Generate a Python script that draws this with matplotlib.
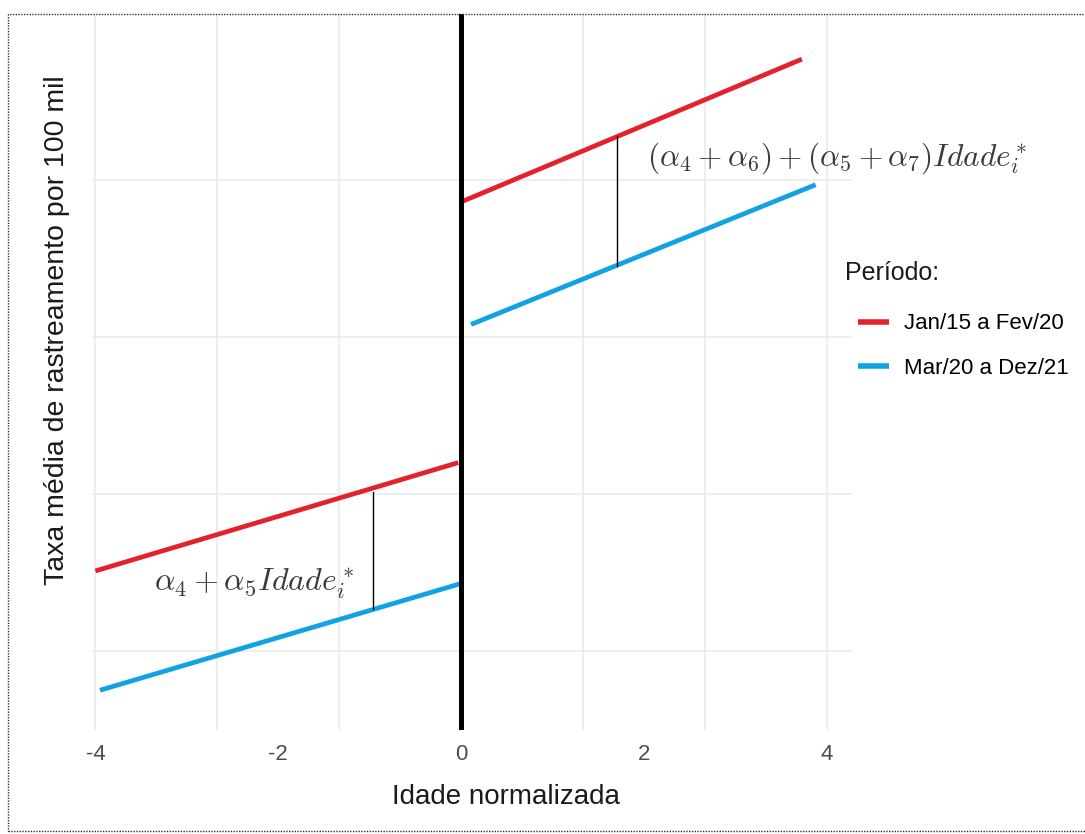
#!/usr/bin/env python3

# Regression discontinuity sketch: tracking rate by normalized age, two periods.

import matplotlib
matplotlib.use('Agg')
import matplotlib.pyplot as plt
from matplotlib.patches import Rectangle

periods = ['Jan/15 a Fev/20', 'Mar/20 a Dez/21']
period_colors = ['#e4222b', '#10a2e2']

# segments left (age < 0) and right (age >= 0) of the cutoff
red_left_x  = [-4.0, -0.03]
red_left_y  = [1.51, 2.20]
blue_left_x = [-3.95, 0.0]
blue_left_y = [0.75, 1.43]
red_right_x  = [0.0, 3.73]
red_right_y  = [3.86, 4.77]
blue_right_x = [0.11, 3.88]
blue_right_y = [3.08, 3.97]

# vertical gaps between the periods
gap_left_x = [-0.96, -0.96]
gap_left_y = [2.01, 1.27]
gap_right_x = [1.71, 1.71]
gap_right_y = [4.28, 3.45]

x_ticks = [-4, -2, 0, 2, 4]
grid_x = [-4, -8/3, -4/3, 0, 4/3, 8/3, 4]
grid_y = [1, 2, 3, 4]

W, H = 1085, 834

def main():
  plt.rcParams['font.family'] = ['Liberation Sans', 'DejaVu Sans']
  plt.rcParams['mathtext.fontset'] = 'cm'

  fig = plt.figure(figsize=(W / 100, H / 100), dpi=100)
  ax = fig.add_axes([92 / W, 1 - 730 / H, 760 / W, 716 / H])
  ax.set_xlim((92 - 461) / 91.4, (852 - 461) / 91.4)
  ax.set_ylim((651 - 730) / 157 + 1, (651 - 14) / 157 + 1)

  # background grid (ggplot minimal look)
  for gx in grid_x:
    ax.axvline(gx, color='#ebebeb', lw=1.2, zorder=0)
  for gy in grid_y:
    ax.axhline(gy, color='#ebebeb', lw=1.2, zorder=0)

  lw = 3.4
  ax.plot(red_left_x, red_left_y, color=period_colors[0], lw=lw, solid_capstyle='butt')
  ax.plot(blue_left_x, blue_left_y, color=period_colors[1], lw=lw, solid_capstyle='butt')
  ax.plot(red_right_x, red_right_y, color=period_colors[0], lw=lw, solid_capstyle='butt', label=periods[0])
  ax.plot(blue_right_x, blue_right_y, color=period_colors[1], lw=lw, solid_capstyle='butt', label=periods[1])

  ax.plot(gap_left_x, gap_left_y, color='black', lw=1.0)
  ax.plot(gap_right_x, gap_right_y, color='black', lw=1.0)

  ax.axvline(0, color='black', lw=3.6, zorder=5)

  ax.text(2.04, 4.14, r'$(\alpha_4+\alpha_6)+(\alpha_5+\alpha_7)Idade_i^*$',
          fontsize=22.5, color='#3a3a3a', ha='left', va='center')
  ax.text(-3.36, 1.43, r'$\alpha_4+\alpha_5Idade_i^*$',
          fontsize=23, color='#3a3a3a', ha='left', va='center')

  for s in ax.spines.values():
    s.set_visible(False)
  ax.set_xticks(x_ticks)
  ax.set_xticklabels([str(t) for t in x_ticks])
  ax.set_yticks([])
  ax.tick_params(axis='x', length=0, pad=10, labelsize=16, labelcolor='#4d4d4d')
  ax.set_xlabel('Idade normalizada', fontsize=20, color='#1a1a1a')
  ax.xaxis.set_label_coords((506 - 92) / 760, -(797 - 730) / 716)
  ax.xaxis.label.set_va('center')

  fig.text(57 / W, 1 - 330 / H, 'Taxa média de rastreamento por 100 mil',
           rotation=90, fontsize=20.5, color='#1a1a1a', ha='center', va='center')

  fig.text(845 / W, 1 - 273 / H, 'Período:', fontsize=18, color='#1a1a1a',
           ha='left', va='center')
  leg = fig.legend(loc='center left', bbox_to_anchor=(858 / W, 1 - 346 / H),
                   frameon=False, fontsize=16,
                   handlelength=1.4, handletextpad=0.65, labelspacing=1.05,
                   borderpad=0.0, borderaxespad=0.0)
  for h in leg.get_lines():
    h.set_linewidth(4.0)

  # dotted frame around the figure
  fig.patches.append(Rectangle((8 / W, 0.004), 1.2, 1 - 14 / H - 0.004, transform=fig.transFigure,
                               fill=False, ls=(0, (1, 1)), lw=1.0, color='#333333'))

  fig.savefig('out.png', dpi=100)

if __name__ == '__main__':
  main()
